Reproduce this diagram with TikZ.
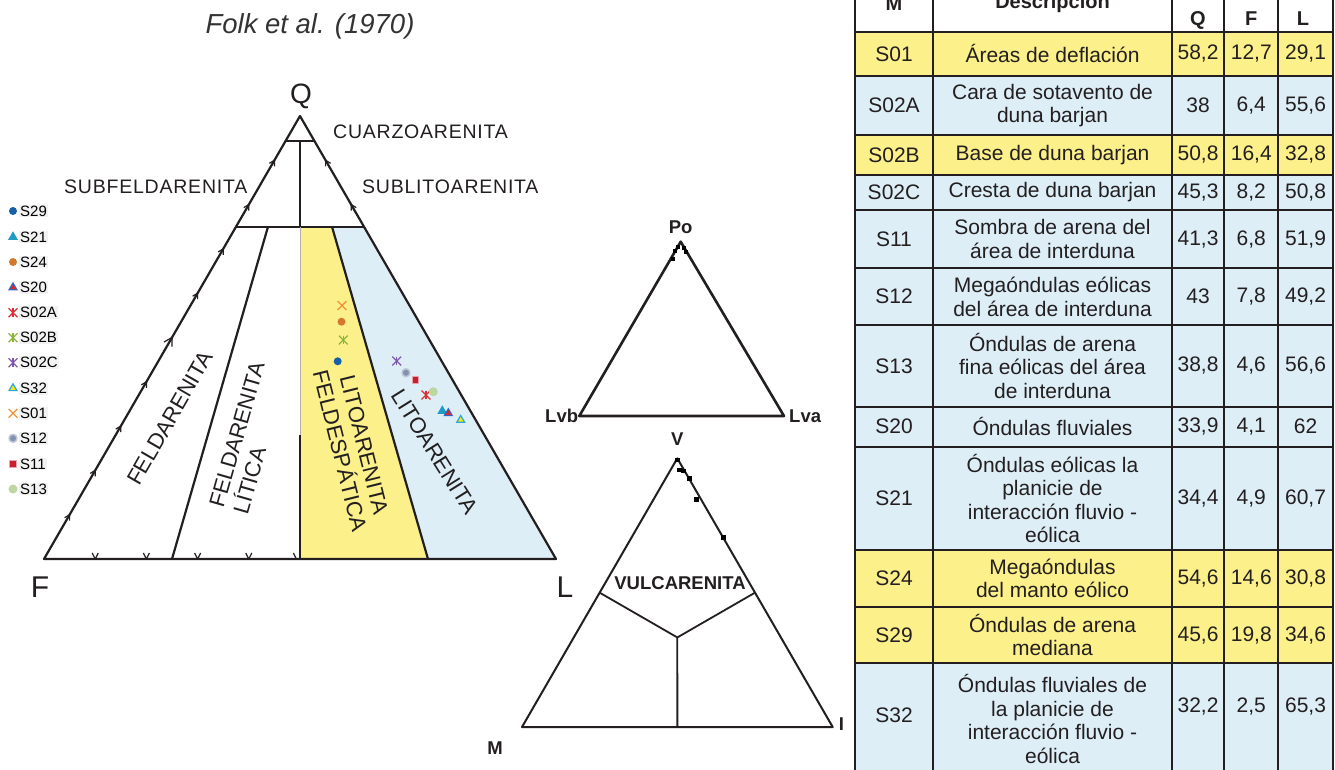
\documentclass[tikz,border=0pt]{standalone}
\usepackage{fontspec}
\setmainfont{Liberation Sans}
\newfontfamily\spcfont[LetterSpace=4]{Liberation Sans}
\usepackage{tikz}
\usetikzlibrary{shapes,shapes.geometric,shapes.misc,positioning,calc}

\definecolor{ylw}{RGB}{252,240,138}
\definecolor{blu}{RGB}{221,238,247}
\definecolor{ink}{RGB}{35,31,32}
\definecolor{c29}{RGB}{22,96,170}
\definecolor{c21}{RGB}{31,155,196}
\definecolor{c24}{RGB}{212,120,46}
\definecolor{c20}{RGB}{54,100,190}
\definecolor{c20in}{RGB}{220,40,40}
\definecolor{c02a}{RGB}{214,50,55}
\definecolor{c02b}{RGB}{140,180,60}
\definecolor{c02c}{RGB}{125,88,170}
\definecolor{c32}{RGB}{40,170,215}
\definecolor{c32in}{RGB}{245,230,20}
\definecolor{c01}{RGB}{245,145,50}
\definecolor{c12}{RGB}{130,145,175}
\definecolor{c11}{RGB}{200,30,45}
\definecolor{c13}{RGB}{190,215,160}

\begin{document}
\begin{tikzpicture}[x=1pt,y=-1pt,line join=round,
font=\fontsize{21}{23.5}\selectfont]

\tikzstyle{side}=[draw=ink, line width=2.2pt]
\tikzstyle{tk}=[draw=ink, line width=1.2pt]
\tikzstyle{field}=[font=\spcfont\fontsize{19.5}{22}\selectfont, anchor=base west, inner sep=0pt, text=ink]
\tikzstyle{rock}=[font=\fontsize{22}{25}\selectfont, inner sep=0pt, text=ink]
\tikzstyle{vertex}=[font=\fontsize{28}{30}\selectfont, anchor=base, inner sep=0pt, text=ink]
\tikzstyle{pole}=[font=\bfseries\fontsize{18.5}{20}\selectfont, inner sep=0pt, text=ink]
\tikzstyle{lgd}=[font=\fontsize{15}{17}\selectfont, fill=black!5, inner sep=1pt, anchor=west]
\tikzstyle{mdot}=[circle, minimum size=8pt, inner sep=0pt]
\tikzstyle{tri}=[regular polygon, regular polygon sides=3, minimum size=11.5pt, inner sep=0pt]
\tikzstyle{tri in}=[regular polygon, regular polygon sides=3, minimum size=6pt, inner sep=0pt]
\tikzstyle{box}=[rectangle, minimum size=6.5pt, inner sep=0pt, fill=c11, draw=c11!40, line width=1pt]
\tikzstyle{xm}=[cross out, draw, minimum size=7.5pt, inner sep=0pt, line width=1.3pt]
\tikzstyle{sq}=[rectangle, minimum size=4.5pt, inner sep=0pt, fill=black]
\tikzstyle{cell}=[inner sep=0pt, align=center, text=ink]
\tikzstyle{head}=[cell, anchor=base, font=\bfseries\fontsize{20}{23}\selectfont]
\tikzstyle{rule}=[draw=ink, line width=2pt]

\useasboundingbox (0,0) rectangle (1335,769);
\fill[white] (0,0) rectangle (1335,769);

%title
\node[font=\itshape\fontsize{27.5}{29}\selectfont, text=black!80, anchor=base, inner sep=0pt]
(title) at (310,33.5)
{Folk et al. (1970)};

%QFL triangle
\coordinate (Q) at (300,116);
\coordinate (F) at (44,559);
\coordinate (L) at (556,559);
\coordinate (fl3) at ($(F)!0.25!(L)$);
\coordinate (fl1) at ($(F)!0.75!(L)$);
\coordinate (mid) at ($(F)!0.5!(L)$);
\coordinate (a75) at ($(Q)!0.25!(F)$);
\coordinate (b75) at ($(Q)!0.25!(L)$);
\coordinate (c75) at ($(Q)!0.25!(fl1)$);
\coordinate (d75) at ($(Q)!0.25!(fl3)$);
\coordinate (m75) at ($(Q)!0.25!(mid)$);
\coordinate (a95) at ($(Q)!0.057!(F)$);
\coordinate (b95) at ($(Q)!0.057!(L)$);

\fill[ylw] (m75) -- (c75) -- (fl1) -- (mid) -- cycle;
\fill[blu] (c75) -- (b75) -- (L) -- (fl1) -- cycle;

\draw[side] (F) -- (Q) -- (L) -- cycle;
\draw[side] (a95) -- (b95);
\draw[side] (a75) -- (b75);
\draw[side] ($(Q)!0.057!(mid)$) -- (m75);
\draw[draw=black!30, line width=1pt] (m75) -- (300,435);
\draw[side] (300,435) -- (mid);
\draw[side] (d75) -- (fl3);
\draw[side] (c75) -- (fl1);

%ticks
\foreach \t in {0.1,0.2,0.3,0.4,0.6,0.7,0.8,0.9}
\draw[tk] ($(Q)!\t!(F)$) +(0,6) -- +(0,0) -- +(-5,3);
\draw[tk] ($(Q)!0.5!(F)$) +(0,9) -- +(0,0) -- +(-8,4.5);
\foreach \t in {0.1,0.2}
\draw[tk] ($(Q)!\t!(L)$) +(0,6) -- +(0,0) -- +(5,3);
\foreach \t in {0.1,0.2,0.3,0.4}
\draw[tk] ($(F)!\t!(L)$) +(-3,-6) -- +(0,0) -- +(3,-6);
\draw[tk] ($(F)!0.493!(L)$) +(-3,-6) -- +(0,0);

%vertex labels
\node[vertex] (lq) at (301,103) {Q};
\node[vertex, font=\fontsize{30}{32}\selectfont] (lf) at (40,597) {F};
\node[vertex, font=\fontsize{30}{32}\selectfont] (ll) at (565,597) {L};

%fields
\node[field] (cuarzo) at (333,138) {CUARZOARENITA};
\node[field] (sublito) at (362,193) {SUBLITOARENITA};
\node[field] (subfeld) at (64,193) {SUBFELDARENITA};
\node[rock, rotate=60] (feld) at (170,418) {FELDARENITA};
\node[rock, rotate=74, align=left] (feldlit) at (249,438) {FELDARENITA\\LÍTICA};
\node[rock, rotate=-76, align=center] (litofeld) at (352,448) {LITOARENITA\\FELDESPÁTICA};
\node[rock, rotate=-58] (lito) at (435,452) {LITOARENITA};

%samples
\node[xm, draw=c01] (p01) at (342,305.5) {};
\node[mdot, fill=c24] (p24) at (341.5,321.7) {};
\node[xm, draw=c02b] (p02b) at (343.3,340) {};
\draw[c02b, line width=1.3pt] (p02b.north) -- (p02b.south);
\node[mdot, fill=c29] (p29) at (337.7,361.3) {};
\node[xm, draw=c02c] (p02c) at (396.7,361) {};
\draw[c02c, line width=1.3pt] (p02c.north) -- (p02c.south);
\node[mdot, fill=c12, draw=c12!50, line width=1.5pt] (p12) at (406,372.7) {};
\node[box] (p11) at (415.7,380) {};
\node[xm, draw=c02a] (p02a) at (426,395) {};
\draw[c02a, line width=1.3pt] (p02a.north) -- (p02a.south);
\node[mdot, fill=c13, minimum size=9pt] (p13) at (433.3,391.7) {};
\node[tri, fill=c21] (p21) at (442.3,411) {};
\node[tri, fill=c20] (p20) at (448.3,413.3) {};
\node[tri in, fill=c20in] (p20i) at (p20) {};
\node[tri, fill=c32] (p32) at (460.7,420) {};
\node[tri in, fill=c32in] (p32i) at (p32) {};

%legend
\node[mdot, fill=c29] (k29) at (13,211) {};
\node[tri, fill=c21] (k21) at (13,237) {};
\node[mdot, fill=c24] (k24) at (13,262) {};
\node[tri, fill=c20] (k20) at (13,287.5) {};
\node[tri in, fill=c20in] (k20i) at (k20) {};
\node[xm, draw=c02a] (k02a) at (13,312.7) {};
\draw[c02a, line width=1.3pt] (k02a.north) -- (k02a.south);
\node[xm, draw=c02b] (k02b) at (13,337.7) {};
\draw[c02b, line width=1.3pt] (k02b.north) -- (k02b.south);
\node[xm, draw=c02c] (k02c) at (13,362.7) {};
\draw[c02c, line width=1.3pt] (k02c.north) -- (k02c.south);
\node[tri, fill=c32] (k32) at (13,388.3) {};
\node[tri in, fill=c32in] (k32i) at (k32) {};
\node[xm, draw=c01] (k01) at (13,413.3) {};
\node[mdot, fill=c12, draw=c12!50, line width=1.5pt] (k12) at (13,438.3) {};
\node[box] (k11) at (13,464) {};
\node[mdot, fill=c13, minimum size=9pt] (k13) at (13,489) {};
\foreach \s/\y in {S29/211,S21/237,S24/262,S20/287.5,S02A/312.7,S02B/337.7,
S02C/362.7,S32/388.3,S01/413.3,S12/438.3,S11/464,S13/489}
\node[lgd] (t\s) at (19,\y) {\s};

%Po triangle
\coordinate (Po) at (680.7,241.7);
\coordinate (Lvb) at (579.3,416);
\coordinate (Lva) at (784,416);
\draw[side, line width=2.6pt] (Po) -- (Lvb) -- (Lva) -- cycle;
\node[pole] (lpo) [above=8pt of Po] {Po};
\node[pole] (llvb) [left=1pt of Lvb] {Lvb};
\node[pole] (llva) [right=5pt of Lva] {Lva};
\foreach \p [count=\i] in {(673,259),(675,251),(678,247),(684,248),(686,252)}
\node[sq, minimum size=3.5pt] (po\i) at \p {};

%V triangle
\coordinate (V) at (677.3,458.3);
\coordinate (M) at (522,727);
\coordinate (I) at (832.7,727);
\coordinate (mi) at ($(M)!0.5!(I)$);
\coordinate (ctr) at ($(V)!0.6667!(mi)$);
\draw[side, line width=2pt] (V) -- (M) -- (I) -- cycle;
\draw[side, line width=1.8pt] ($(V)!0.5!(M)$) -- (ctr) -- ($(V)!0.5!(I)$) (ctr) -- (mi);
\node[pole] (lv) [above=13pt of V] {V};
\node[pole] (lm) at (495,748) {M};
\node[pole] (li) [right=6pt of I, yshift=3pt] {I};
\node[pole] (vulc) at (680,583.5) {VULCARENITA};
\foreach \p [count=\i] in {(677.3,460),(679.5,470),(683.3,471),(689.3,478.3),(696.7,499.3),(723.3,537.3)}
\node[sq] (v\i) at \p {};

%table
\foreach \ya/\yb/\fc/\vm/\vd/\vq/\vf/\vl in {
31.7/76/ylw/S01/{Áreas de deflación}/{58,2}/{12,7}/{29,1},
76/135/blu/S02A/{Cara de sotavento de\\duna barjan}/38/{6,4}/{55,6},
135/175/ylw/S02B/{Base de duna barjan}/{50,8}/{16,4}/{32,8},
175/210/blu/S02C/{Cresta de duna barjan}/{45,3}/{8,2}/{50,8},
210/268.3/blu/S11/{Sombra de arena del\\área de interduna}/{41,3}/{6,8}/{51,9},
268.3/325/blu/S12/{Megaóndulas eólicas\\del área de interduna}/43/{7,8}/{49,2},
325/406.7/blu/S13/{Óndulas de arena\\fina eólicas del área\\de interduna}/{38,8}/{4,6}/{56,6},
406.7/446.5/blu/S20/{Óndulas fluviales}/{33,9}/{4,1}/62,
446.5/550/blu/S21/{Óndulas eólicas la\\planicie de\\interacción fluvio -\\eólica}/{34,4}/{4,9}/{60,7},
550/606.7/ylw/S24/{Megaóndulas\\del manto eólico}/{54,6}/{14,6}/{30,8},
606.7/663.3/ylw/S29/{Óndulas de arena\\mediana}/{45,6}/{19,8}/{34,6}}
{
\fill[\fc] (855,\ya) rectangle (1332.7,\yb);
\node[cell] (m\vm) at (894,{(\ya+\yb)/2}) {\vm};
\node[cell] (d\vm) at (1052.5,{(\ya+\yb)/2}) {\vd};
\node[cell] (q\vm) at (1198,{(\ya+\yb)/2}) {\vq};
\node[cell] (f\vm) at (1251.3,{(\ya+\yb)/2}) {\vf};
\node[cell] (l\vm) at (1305.5,{(\ya+\yb)/2}) {\vl};
}
\fill[blu] (855,663.3) rectangle (1332.7,780);
\node[cell] (mS32) at (894,715) {S32};
\node[cell] (dS32) at (1052.5,719) {Óndulas fluviales de\\la planicie de\\interacción fluvio -\\eólica};
\node[cell] (qS32) at (1198,706) {32,2};
\node[cell] (fS32) at (1251.3,706) {2,5};
\node[cell] (lS32) at (1305.5,706) {65,3};

%header
\node[head] (hm) at (894,10) {M};
\node[head] (hd) at (1052.5,8) {Descripción};
\node[head] (hq) at (1198,25) {Q};
\node[head] (hf) at (1251.3,25) {F};
\node[head] (hl) at (1303,25) {L};

\foreach \x in {855,933.3,1171.7,1224.3,1278.3,1332.7}
\draw[rule] (\x,-20) -- (\x,780);
\foreach \y in {31.7,76,135,175,210,268.3,325,406.7,446.5,550,606.7,663.3}
\draw[rule] (855,\y) -- (1332.7,\y);

\end{tikzpicture}
\end{document}
